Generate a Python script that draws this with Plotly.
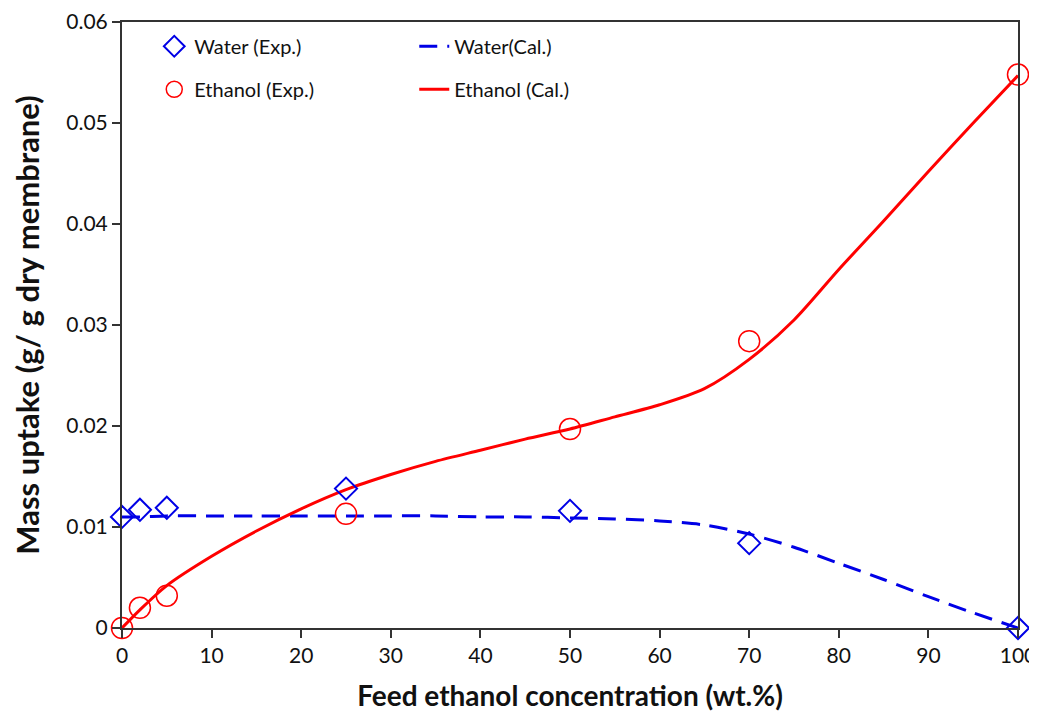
import plotly.graph_objects as go

# Experimental data
x_exp = [0, 2, 5, 25, 50, 70, 100]
water_exp = [0.0110, 0.0117, 0.0119, 0.0138, 0.0116, 0.0084, 0.0000]
ethanol_exp = [0.0000, 0.0020, 0.0032, 0.0113, 0.0197, 0.0284, 0.0548]

# Calculated curves
x_cal = [0, 2, 5, 10, 15, 20, 25, 30, 35, 40, 45, 50, 55, 60, 65, 70, 75, 80, 85, 90, 95, 100]
water_cal = [0.0110, 0.0110, 0.0111, 0.0111, 0.0111, 0.0111, 0.0111, 0.0111, 0.0111, 0.0110, 0.0110,
             0.0109, 0.0108, 0.0106, 0.0102, 0.0093, 0.0080, 0.0064, 0.0048, 0.0031, 0.0015, 0.0000]
ethanol_cal = [0.0000, 0.0018, 0.0042, 0.0071, 0.0096, 0.0118, 0.0137, 0.0152, 0.0165, 0.0176, 0.0187,
               0.0197, 0.0209, 0.0221, 0.0237, 0.0266, 0.0305, 0.0355, 0.0403, 0.0452, 0.0500, 0.0547]

x_ticks = [0, 10, 20, 30, 40, 50, 60, 70, 80, 90, 100]
y_ticks = [0, 0.01, 0.02, 0.03, 0.04, 0.05, 0.06]
y_tick_text = ["0", "0.01", "0.02", "0.03", "0.04", "0.05", "0.06"]

BLUE = "#0000E6"
RED = "#FF0000"
FONT = "Lato"

fig = go.Figure()

fig.add_trace(go.Scatter(
    x=x_cal, y=water_cal, mode="lines", name="Water(Cal.)",
    line=dict(color=BLUE, width=3, dash="18px,10px", shape="spline", smoothing=0.8),
    legend="legend", legendrank=2,
))
fig.add_trace(go.Scatter(
    x=x_cal, y=ethanol_cal, mode="lines", name="Ethanol (Cal.)",
    line=dict(color=RED, width=3, shape="spline", smoothing=0.8),
    legend="legend2", legendrank=2,
))
fig.add_trace(go.Scatter(
    x=x_exp, y=water_exp, mode="markers", name="Water (Exp.)", cliponaxis=False,
    marker=dict(symbol="diamond-open", size=17, color=BLUE, line=dict(width=2, color=BLUE)),
    legend="legend", legendrank=1,
))
fig.add_trace(go.Scatter(
    x=x_exp, y=ethanol_exp, mode="markers", name="Ethanol (Exp.)", cliponaxis=False,
    marker=dict(symbol="circle-open", size=21, color=RED, line=dict(width=1.5, color=RED)),
    legend="legend2", legendrank=1,
))

legend_common = dict(
    orientation="h", xanchor="left", yanchor="middle",
    font=dict(family=FONT, size=20, color="#111"),
    bgcolor="rgba(0,0,0,0)", entrywidth=215, entrywidthmode="pixels",
    traceorder="normal",
)

fig.update_layout(
    width=1029, height=705,
    margin=dict(l=114, r=19, t=14, b=85),
    paper_bgcolor="white", plot_bgcolor="white",
    font=dict(family=FONT, size=21, color="#111"),
    showlegend=True,
    legend=dict(x=0.036, y=0.96, **legend_common),
    legend2=dict(x=0.036, y=0.889, **legend_common),
    xaxis=dict(
        range=[0, 100], tickvals=x_ticks, ticks="outside", ticklen=8, tickwidth=1.5,
        tickcolor="#333", showline=True, linecolor="#333", linewidth=2, mirror=True,
        showgrid=False, zeroline=False, automargin=False,
        tickfont=dict(family=FONT, size=21, color="#111"),
        title=dict(text="<b>Feed ethanol concentration (wt.%)</b>",
                   font=dict(family=FONT, size=28, color="#111"), standoff=20),
    ),
    yaxis=dict(
        range=[0, 0.06], tickvals=y_ticks, ticktext=y_tick_text, ticks="outside", ticklen=8,
        tickwidth=1.5, tickcolor="#333", showline=True, linecolor="#333", linewidth=2,
        mirror=True, showgrid=False, zeroline=False, automargin=False,
        tickfont=dict(family=FONT, size=21, color="#111"),
        title=dict(text="<b>Mass uptake (g/ g dry membrane)</b>",
                   font=dict(family=FONT, size=31, color="#111"), standoff=19),
    ),
)

fig.write_html("out.html")
